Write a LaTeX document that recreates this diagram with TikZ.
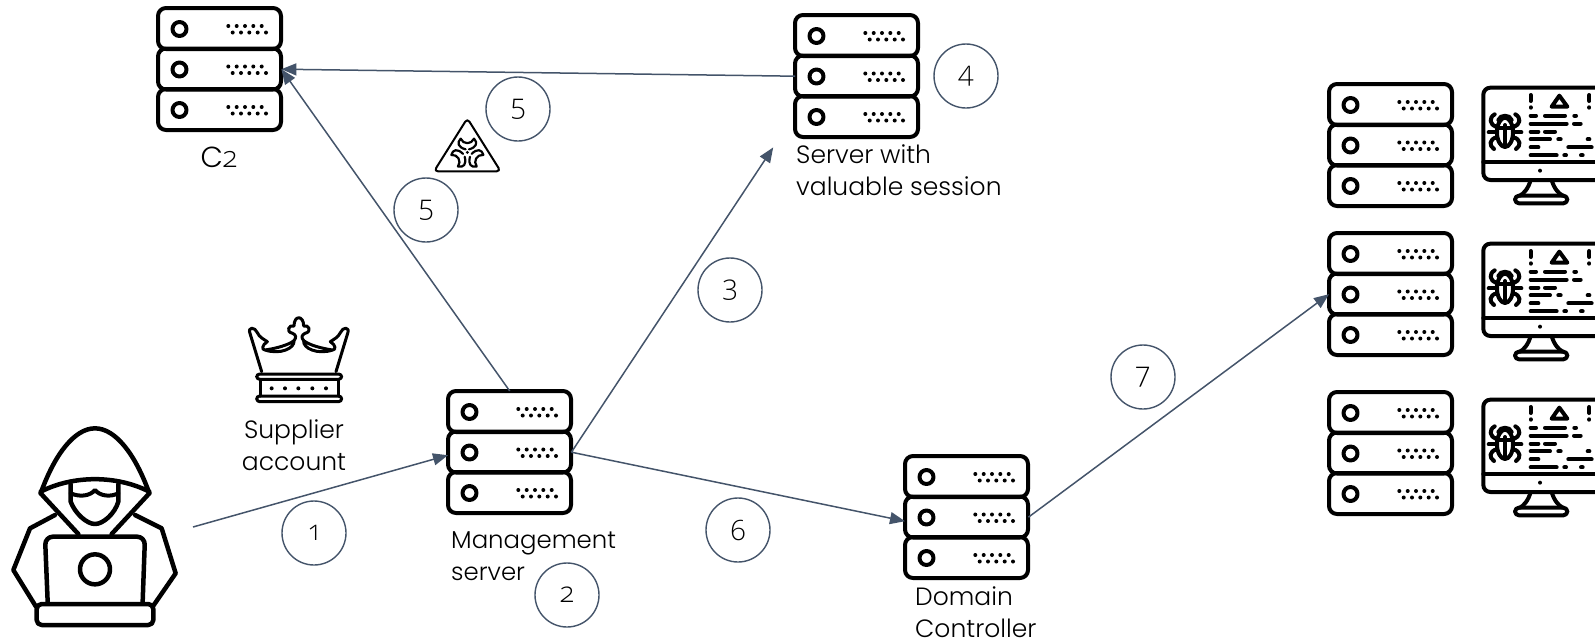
\documentclass[tikz,border=0pt]{standalone}
\usepackage{fontspec}
\setmainfont{Poppins}[UprightFont=* Light]
\newfontfamily\numfont[Numbers=OldStyle,UprightFont=* Light]{Open Sans}
\usetikzlibrary{arrows.meta,calc}
\definecolor{slateline}{HTML}{44546A}
\tikzset{
  x=1pt,y=-1pt,
  icon/.style={line width=4pt,line cap=round,line join=round,draw=black},
  thin icon/.style={line width=3pt,line cap=round,line join=round,draw=black},
  srvbox/.style={rectangle,minimum width=123pt,minimum height=122pt,inner sep=0pt},
  conn/.style={draw=slateline,line width=1.5pt,-{Triangle[length=15pt,width=12pt,fill=slateline]}},
  num/.style={circle,draw=slateline,line width=1.4pt,minimum size=64pt,inner sep=0pt,
     font=\numfont\fontsize{28}{32}\selectfont},
  lbl/.style={inner sep=0pt,font=\fontsize{25}{32}\selectfont,align=left},
  pics/srvicon/.style={code={
    \foreach \k in {0,1,2}{
      \begin{scope}[shift={(0,40.5*\k)}]
        \draw[icon,rounded corners=8pt] (0,0) rectangle (123,41);
        \draw[icon] (21.5,21) circle (7pt);
        \foreach \d in {70.3,78.7,87,95.3,103.7}{\fill (\d,18) circle (2pt);}
        \foreach \d in {74.7,83,91.3,99.7,108}{\fill (\d,24.5) circle (2pt);}
      \end{scope}
    }
  }},
  pics/moniticon/.style={code={
    \begin{scope}[scale=1/3]
      \draw[icon,rounded corners=7pt] (490,315) -- (490,38) -- (860,38) -- (860,315) -- cycle;
      \draw[icon] (490,262) -- (860,262);
      \fill (660,287) circle (6pt);
      \draw[icon] (632,315) .. controls (625,340) and (612,355) .. (600,362);
      \draw[icon] (695,315) .. controls (702,340) and (715,355) .. (728,362);
      \draw[icon,rounded corners=4pt] (585,362) rectangle (742,385);
      \draw[icon] (632,60) -- (632,78) (632,97) -- (632,98) (808,60) -- (808,78) (808,97) -- (808,98);
      \draw[icon] (718,62) -- (695,95) -- (742,95) -- cycle;
      \draw[icon,line cap=round]
        (632,122) -- (648,122) (675,122) -- (735,122) (763,122) -- (768,122)
        (632,146) -- (740,146) (762,146) -- (782,146)
        (632,170) -- (655,170) (675,170) -- (705,170)
        (632,193) -- (690,193) (715,193) -- (722,193) (803,193) -- (808,193)
        (632,217) -- (655,217) (745,217) -- (815,217)
        (632,241) -- (710,241) (733,241) -- (738,241) (783,241) -- (788,241);
      \draw[icon] (555,172) ellipse [x radius=24,y radius=44];
      \draw[icon] (555,150) -- (555,215) (530,160) -- (580,160);
      \draw[icon] (535,135) .. controls (540,118) and (570,118) .. (575,135);
      \draw[icon] (524,118) .. controls (506,128) and (508,150) .. (530,155);
      \draw[icon] (586,118) .. controls (604,128) and (602,150) .. (580,155);
      \draw[icon] (506,172) -- (530,172) (580,172) -- (604,172);
      \draw[icon] (522,222) .. controls (506,212) and (508,192) .. (530,187);
      \draw[icon] (588,222) .. controls (604,212) and (602,192) .. (580,187);
    \end{scope}
  }},
}
\newcommand{\srv}[3]{%
  \node[srvbox,anchor=north west] (#1) at (#2,#3) {};
  \pic at (#1.north west) {srvicon};}
\begin{document}
\begin{tikzpicture}
\useasboundingbox (0,0) rectangle (1595,643);
\begin{scope}
\clip (0,0) rectangle (1595,643);
\srv{cc}{158}{8}
\srv{sess}{795}{15}
\srv{mgmt}{448}{391}
\srv{dc}{905}{456}
\srv{ra}{1329}{84}
\srv{rb}{1329}{233}
\srv{rc}{1329}{392}
\pic at (1320,75) {moniticon};
\pic at (1320,231) {moniticon};
\pic at (1320,387) {moniticon};
% hacker
\begin{scope}[shift={(0,410)},scale=1/3]
  \draw[icon,line width=4.5pt] (122,250) .. controls (165,130) and (225,55) .. (285,55)
     .. controls (345,55) and (405,130) .. (448,250);
  \draw[icon,line width=4.5pt] (122,245) .. controls (220,195) and (350,195) .. (448,245);
  \draw[icon,line width=4.5pt] (122,250) -- (235,372) (448,250) -- (335,372);
  \draw[icon,line width=4.5pt] (212,222) -- (212,275) .. controls (225,310) and (260,342) .. (285,342)
     .. controls (310,342) and (345,310) .. (355,275) -- (355,222);
  \draw[icon,line width=4pt] (212,250) .. controls (240,262) and (270,258) .. (285,240)
     .. controls (300,258) and (330,262) .. (355,250);
  \draw[icon,line width=4.5pt] (165,315) -- (90,355) -- (40,480) -- (108,590);
  \draw[icon,line width=4.5pt] (405,315) -- (485,355) -- (527,490) -- (458,590);
  \draw[icon,line width=4.5pt,rounded corners=8pt] (143,575) -- (135,380) -- (435,380) -- (428,575);
  \draw[icon,line width=4.5pt] (285,478) circle (45pt);
  \draw[icon,line width=4.5pt,rounded corners=5pt] (110,582) rectangle (460,645);
\end{scope}
% crown
\begin{scope}[shift={(230,300)},scale=1/3]
  \draw[thin icon] (95,215) -- (60,100) .. controls (52,80) and (75,80) .. (82,98)
     .. controls (88,112) and (102,118) .. (112,125) .. controls (95,135) and (95,150) .. (105,150)
     .. controls (140,145) and (175,135) .. (192,122) .. controls (195,145) and (150,165) .. (105,150);
  \draw[thin icon] (318,215) -- (353,100) .. controls (361,80) and (338,80) .. (331,98)
     .. controls (325,112) and (311,118) .. (301,125) .. controls (318,135) and (318,150) .. (308,150)
     .. controls (273,145) and (238,135) .. (221,122) .. controls (218,145) and (263,165) .. (308,150);
  \draw[thin icon] (192,122) .. controls (200,112) and (198,105) .. (188,100)
     .. controls (165,95) and (178,72) .. (192,78) .. controls (192,45) and (221,45) .. (221,78)
     .. controls (235,72) and (248,95) .. (225,100) .. controls (215,105) and (213,112) .. (221,122);
  \draw[thin icon,rounded corners=3pt] (80,222) rectangle (335,238);
  \draw[thin icon] (90,238) -- (90,288) (325,238) -- (325,288);
  \draw[thin icon,rounded corners=3pt] (80,288) rectangle (335,305);
  \foreach \d in {125,165,205,247,288}{\fill (\d,265) circle (6pt);}
\end{scope}
% biohazard
\begin{scope}[shift={(420,100)},scale=1/3]
  \draw[thin icon,line width=2pt,rounded corners=4pt] (142,55) -- (242,214) -- (42,214) -- cycle;
  \fill (142,157) circle (5pt);
  \foreach \a in {0,120,240}{
    \draw[thin icon,line width=2.2pt,shift={(142,160)},rotate=\a]
      (-5,-12) .. controls (-28,-18) and (-32,-32) .. (-20,-44)
      .. controls (-12,-26) and (12,-26) .. (20,-44)
      .. controls (32,-32) and (28,-18) .. (5,-12);
  }
\end{scope}
\end{scope}
% start / end points
\coordinate (hacker) at (193,527);
% numbers
\node[num] (n1) at (314,533) {1};
\node[num] (n2) at (567,595) {2};
\node[num] (n3) at (730,290) {3};
\node[num] (n4) at (966,76) {4};
\node[num] (n5a) at (518,109) {5};
\node[num] (n5b) at (426,210) {5};
\node[num] (n6) at (738,530) {6};
\node[num] (n7) at (1143,377) {7};
% connectors
\draw[conn] (hacker) -- ([yshift=-3pt]mgmt.west);
\draw[conn] (mgmt.north) -- (cc.east);
\draw[conn] (mgmt.east) -- ([xshift=-83.5pt,yshift=-10pt]sess.south);
\draw[conn] (sess.west) -- (cc.east);
\draw[conn] (mgmt.east) -- ([yshift=-4pt]dc.west);
\draw[conn] (dc.east) -- (rb.west);
% labels
\node[lbl,anchor=center,font=\fontsize{29}{32}\selectfont] (t1) at (219,157) {C{\numfont 2}};
\node[lbl,anchor=west] (t2) at (796,170) {Server with\\valuable session};
\node[lbl,anchor=center,align=center] (t3) at (294,445) {Supplier\\account};
\node[lbl,anchor=west,font=\fontsize{24.4}{32}\selectfont] (t4) at (451,556) {Management\\server};
\node[lbl,anchor=west] (t5) at (915,612) {Domain\\Controller};
\end{tikzpicture}
\end{document}
